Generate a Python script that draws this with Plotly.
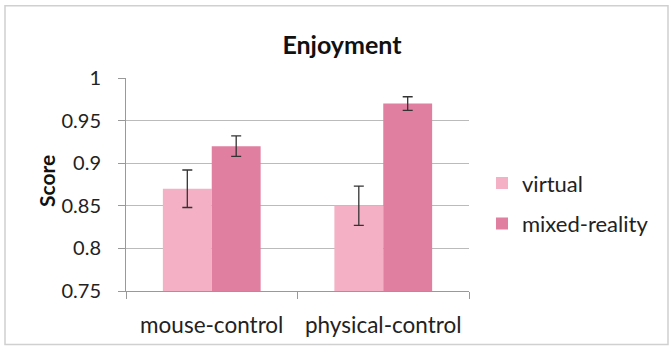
import plotly.graph_objects as go

categories = ["mouse-control", "physical-control"]
virtual = [0.87, 0.85]
virtual_err = [0.022, 0.023]
mixed = [0.92, 0.97]
mixed_err = [0.012, 0.008]
y_ticks = [0.75, 0.8, 0.85, 0.9, 0.95, 1]
y_labels = ["0.75", "0.8", "0.85", "0.9", "0.95", "1"]

FONT = "Lato, 'Open Sans', sans-serif"

fig = go.Figure()
fig.add_trace(go.Bar(
    name="virtual", x=categories, y=virtual, legendgroup="a",
    marker=dict(color="#F4B1C5", line=dict(width=0)),
    error_y=dict(type="data", array=virtual_err, color="#333333", thickness=1.3, width=5),
))
fig.add_trace(go.Bar(
    name="mixed-reality", x=categories, y=mixed, legendgroup="b",
    marker=dict(color="#E07F9F", line=dict(width=0)),
    error_y=dict(type="data", array=mixed_err, color="#333333", thickness=1.3, width=5),
))

L, R, T, B = 126, 200, 78, 57
W, H = 669, 350
pw, ph = W - L - R, H - T - B

fig.update_layout(
    width=W, height=H,
    margin=dict(l=L, r=R, t=T, b=B),
    paper_bgcolor="white", plot_bgcolor="white",
    barmode="group", bargap=0.43, bargroupgap=0,
    font=dict(family=FONT, color="#222222"),
    title=dict(text="<b>Enjoyment</b>", x=342 / W, xanchor="center",
               y=1 - 45 / H, yanchor="middle", font=dict(size=25, family=FONT, color="#111111")),
    legend=dict(x=(482 - L) / pw, y=(H - B - 163) / ph, xanchor="left", yanchor="top",
                font=dict(size=22, family=FONT, color="#222222"),
                tracegroupgap=9, itemwidth=30, bgcolor="rgba(0,0,0,0)"),
    showlegend=True,
    shapes=[dict(type="rect", xref="paper", yref="paper",
                 x0=(5 - L) / pw, x1=(668 - L) / pw,
                 y0=(H - B - 347) / ph, y1=(H - B - 5) / ph,
                 line=dict(color="#D0D0D0", width=1.5), fillcolor="rgba(0,0,0,0)", layer="below")],
    annotations=[dict(text="<b>Score</b>", textangle=-90, xref="paper", yref="paper",
                      x=(46 - L) / pw, y=(H - B - 182) / ph, xanchor="center", yanchor="middle",
                      showarrow=False, font=dict(size=21, family=FONT, color="#111111"))],
)
fig.update_xaxes(
    showline=True, linecolor="#999999", linewidth=1,
    ticks="outside", tickson="boundaries", ticklen=7, tickcolor="#999999",
    tickfont=dict(size=22.5, family=FONT, color="#222222"),
    ticklabelstandoff=14,
    showgrid=False,
)
fig.update_yaxes(
    range=[0.75, 1.0], tickvals=y_ticks, ticktext=y_labels,
    showline=True, linecolor="#999999", linewidth=1,
    ticks="outside", ticklen=7, tickcolor="#999999",
    showgrid=True, gridcolor="#BBBBBB", gridwidth=1,
    tickfont=dict(size=20, family=FONT, color="#222222"),
    ticklabelstandoff=13,
    zeroline=False,
)

fig.write_html("out.html", config={"displayModeBar": False},
               post_script="document.body.style.margin='0';document.body.style.overflow='hidden';")
